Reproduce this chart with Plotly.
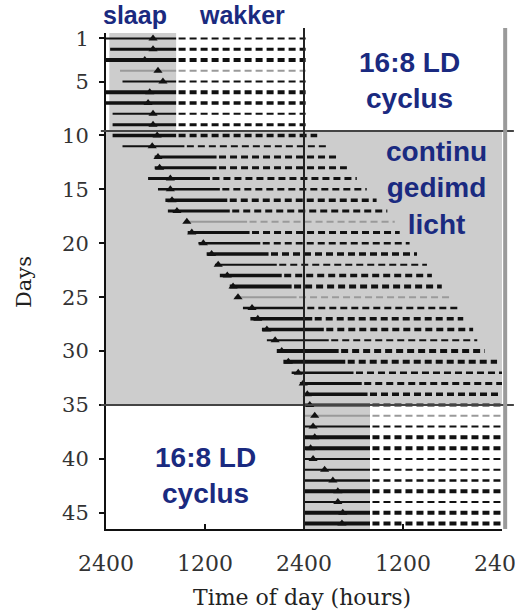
import plotly.graph_objects as go

# ---- data (hours from left 2400 edge, double-plotted 0-48 h) ----
days = list(range(1, 47))
onset = [0.0, 0.5, 0.0, 1.7, 2.0, 0.0, 0.0, 0.8, 0.8,
         0.8, 2.0, 5.9, 5.9, 5.1, 6.3, 7.2, 7.5, 9.6, 9.9, 11.2, 12.2, 13.2, 13.8, 15.0, 15.6,
         16.6, 17.5, 18.9, 19.5, 20.7, 21.5, 22.5, 23.5, 24.2,
         24.0, 24.0, 24.0, 24.0, 24.0, 24.0, 24.0, 24.0, 24.0, 24.0, 24.0, 24.0]
marker_t = [5.7, 5.7, 4.7, 6.3, 6.9, 5.3, 5.1, 5.7, 5.7,
            6.2, 5.6, 6.3, 6.5, 7.8, 7.8, 8.0, 8.6, 9.8, 10.4, 11.8, 12.8, 13.6, 14.7, 15.4, 16.0,
            17.7, 18.4, 19.5, 20.5, 21.3, 22.1, 23.3, 23.9, 24.4,
            24.7, 25.3, 25.1, 25.3, 24.8, 25.1, 26.5, 27.5, 28.1, 28.1, 28.7, 28.6]
sleep_end = [8.5, 8.5, 8.5, 8.5, 8.5, 8.5, 8.5, 8.5, 8.5,
             8.5, 9.5, 13.4, 13.4, 12.6, 13.8, 14.7, 15.0, 17.1, 17.4, 18.7, 19.7, 20.7, 21.3, 22.5, 23.1,
             24.1, 25.0, 26.4, 27.0, 28.2, 29.0, 30.0, 31.0, 31.7,
             32.0, 32.0, 32.0, 32.0, 32.0, 32.0, 32.0, 32.0, 32.0, 32.0, 32.0, 32.0]
offset = [24.2, 24.2, 24.2, 24.2, 24.2, 24.2, 24.2, 24.2, 24.2,
          25.6, 26.8, 28.1, 29.2, 30.4, 31.6, 32.8, 34.1, 35.0, 35.6, 36.8, 37.7, 38.9, 39.5, 40.7, 41.9,
          42.7, 43.3, 44.5, 45.0, 45.9, 47.4, 48.0, 48.0, 48.0,
          48.0, 48.0, 48.0, 48.0, 48.0, 48.0, 48.0, 48.0, 48.0, 48.0, 48.0, 48.0]
activity_level = [2, 3, 4, 1, 2, 4, 3.5, 2, 3,
                  3.5, 2, 3, 3, 3, 2.5, 3.5, 3, 1, 3, 2.5, 3.5, 2, 3.5, 4, 1,
                  2.5, 3.5, 3.5, 2, 4, 4, 2.5, 3, 3.5,
                  3, 1, 2, 4, 4, 2, 2, 2.5, 4, 2, 4, 4]

x_tickvals = [0, 12, 24, 36, 48]
x_ticktext = ["2400", "1200", "2400", "1200", "2400"]
y_tickvals = [1, 5, 10, 15, 20, 25, 30, 35, 40, 45]

# light schedule (hours / days)
dark_top = [0.4, 8.5]      # dark phase, first LD block
ld1_days = [0.5, 9.6]
ll_days = [9.6, 35.0]
dark_bottom = [24.0, 32.0]
ld2_days = [35.0, 46.5]

NAVY = "#1a2a80"
GRAY = "#cdcdcd"

fig = go.Figure()

for d, s, se, e, lvl in zip(days, onset, sleep_end, offset, activity_level):
    faint = lvl <= 1
    col = "#9a9a9a" if faint else "#111111"
    w = 2 if faint else lvl
    fig.add_trace(go.Scatter(x=[s, se], y=[d, d], mode="lines",
                             line=dict(color=col, width=w), hoverinfo="skip", showlegend=False))
    fig.add_trace(go.Scatter(x=[se + 0.3, e], y=[d, d], mode="lines",
                             line=dict(color=col, width=w, dash="7px,4px"),
                             hoverinfo="skip", showlegend=False))

fig.add_trace(go.Scatter(x=marker_t, y=days, mode="markers",
                         marker=dict(symbol="triangle-up", size=8, color="#111111"),
                         hoverinfo="skip", showlegend=False))

shapes = [
    dict(type="rect", xref="x", yref="y", x0=dark_top[0], x1=dark_top[1], y0=ld1_days[0], y1=ld1_days[1],
         fillcolor=GRAY, line_width=0, layer="below"),
    dict(type="rect", xref="x", yref="y", x0=x_tickvals[0], x1=x_tickvals[-1], y0=ll_days[0], y1=ll_days[1],
         fillcolor=GRAY, line_width=0, layer="below"),
    dict(type="rect", xref="x", yref="y", x0=dark_bottom[0], x1=dark_bottom[1], y0=ld2_days[0], y1=ld2_days[1],
         fillcolor=GRAY, line_width=0, layer="below"),
    dict(type="line", xref="paper", yref="y", x0=-0.013, x1=1.03, y0=ll_days[0], y1=ll_days[0],
         line=dict(color="#444444", width=2)),
    dict(type="line", xref="paper", yref="y", x0=-0.013, x1=1.03, y0=ll_days[1], y1=ll_days[1],
         line=dict(color="#444444", width=2)),
    dict(type="line", xref="x", yref="paper", x0=24, x1=24, y0=0, y1=1.01,
         line=dict(color="#222222", width=2)),
    dict(type="line", xref="paper", yref="paper", x0=1.008, x1=1.008, y0=0, y1=1.01,
         line=dict(color="#9a9a9a", width=4)),
]

ann_font = dict(family="Liberation Sans, Arial", size=28, color=NAVY, weight="bold")
small_font = dict(family="Liberation Sans, Arial", size=25, color=NAVY, weight="bold")
annotations = [
    dict(text="slaap", x=3.5, y=1.036, xref="x", yref="paper", xanchor="center", yanchor="middle",
         showarrow=False, font=small_font),
    dict(text="wakker", x=16.5, y=1.036, xref="x", yref="paper", xanchor="center", yanchor="middle",
         showarrow=False, font=small_font),
    dict(text="16:8 LD<br>cyclus", x=36.8, y=4.95, xref="x", yref="y", xanchor="center", yanchor="middle",
         showarrow=False, font=ann_font),
    dict(text="continu<br>gedimd<br>licht", x=40.1, y=14.9, xref="x", yref="y", xanchor="center",
         yanchor="middle", showarrow=False, font=ann_font),
    dict(text="16:8 LD<br>cyclus", x=12.0, y=41.5, xref="x", yref="y", xanchor="center", yanchor="middle",
         showarrow=False, font=ann_font),
    dict(text="Days", x=-0.207, y=0.498, xref="paper", yref="paper", textangle=-90,
         xanchor="center", yanchor="middle", showarrow=False,
         font=dict(family="DejaVu Serif", size=21, color="#222222")),
    dict(text="Time of day (hours)", x=0.495, y=-0.139, xref="paper", yref="paper",
         xanchor="center", yanchor="middle", showarrow=False,
         font=dict(family="DejaVu Serif", size=22, color="#222222")),
]

fig.update_layout(
    width=515, height=612,
    margin=dict(l=106, r=13, t=33, b=83, autoexpand=False),
    plot_bgcolor="white", paper_bgcolor="white",
    shapes=shapes, annotations=annotations,
    xaxis=dict(range=[0, 48], tickvals=x_tickvals, ticktext=x_ticktext, automargin=False,
               ticks="inside", ticklen=5, tickwidth=2, tickcolor="#111",
               showline=True, linecolor="#111", linewidth=2, showgrid=False, zeroline=False,
               ticklabelstandoff=14, ticklabeloverflow="allow",
               tickfont=dict(family="DejaVu Serif", size=22, color="#333333")),
    yaxis=dict(range=[46.5, 0.5], tickvals=y_tickvals, automargin=False,
               ticks="outside", ticklen=5, tickwidth=2, tickcolor="#111",
               showline=True, linecolor="#111", linewidth=2, showgrid=False, zeroline=False,
               ticklabelstandoff=6,
               tickfont=dict(family="DejaVu Serif", size=21, color="#333333")),
)

fig.write_html("out.html")
